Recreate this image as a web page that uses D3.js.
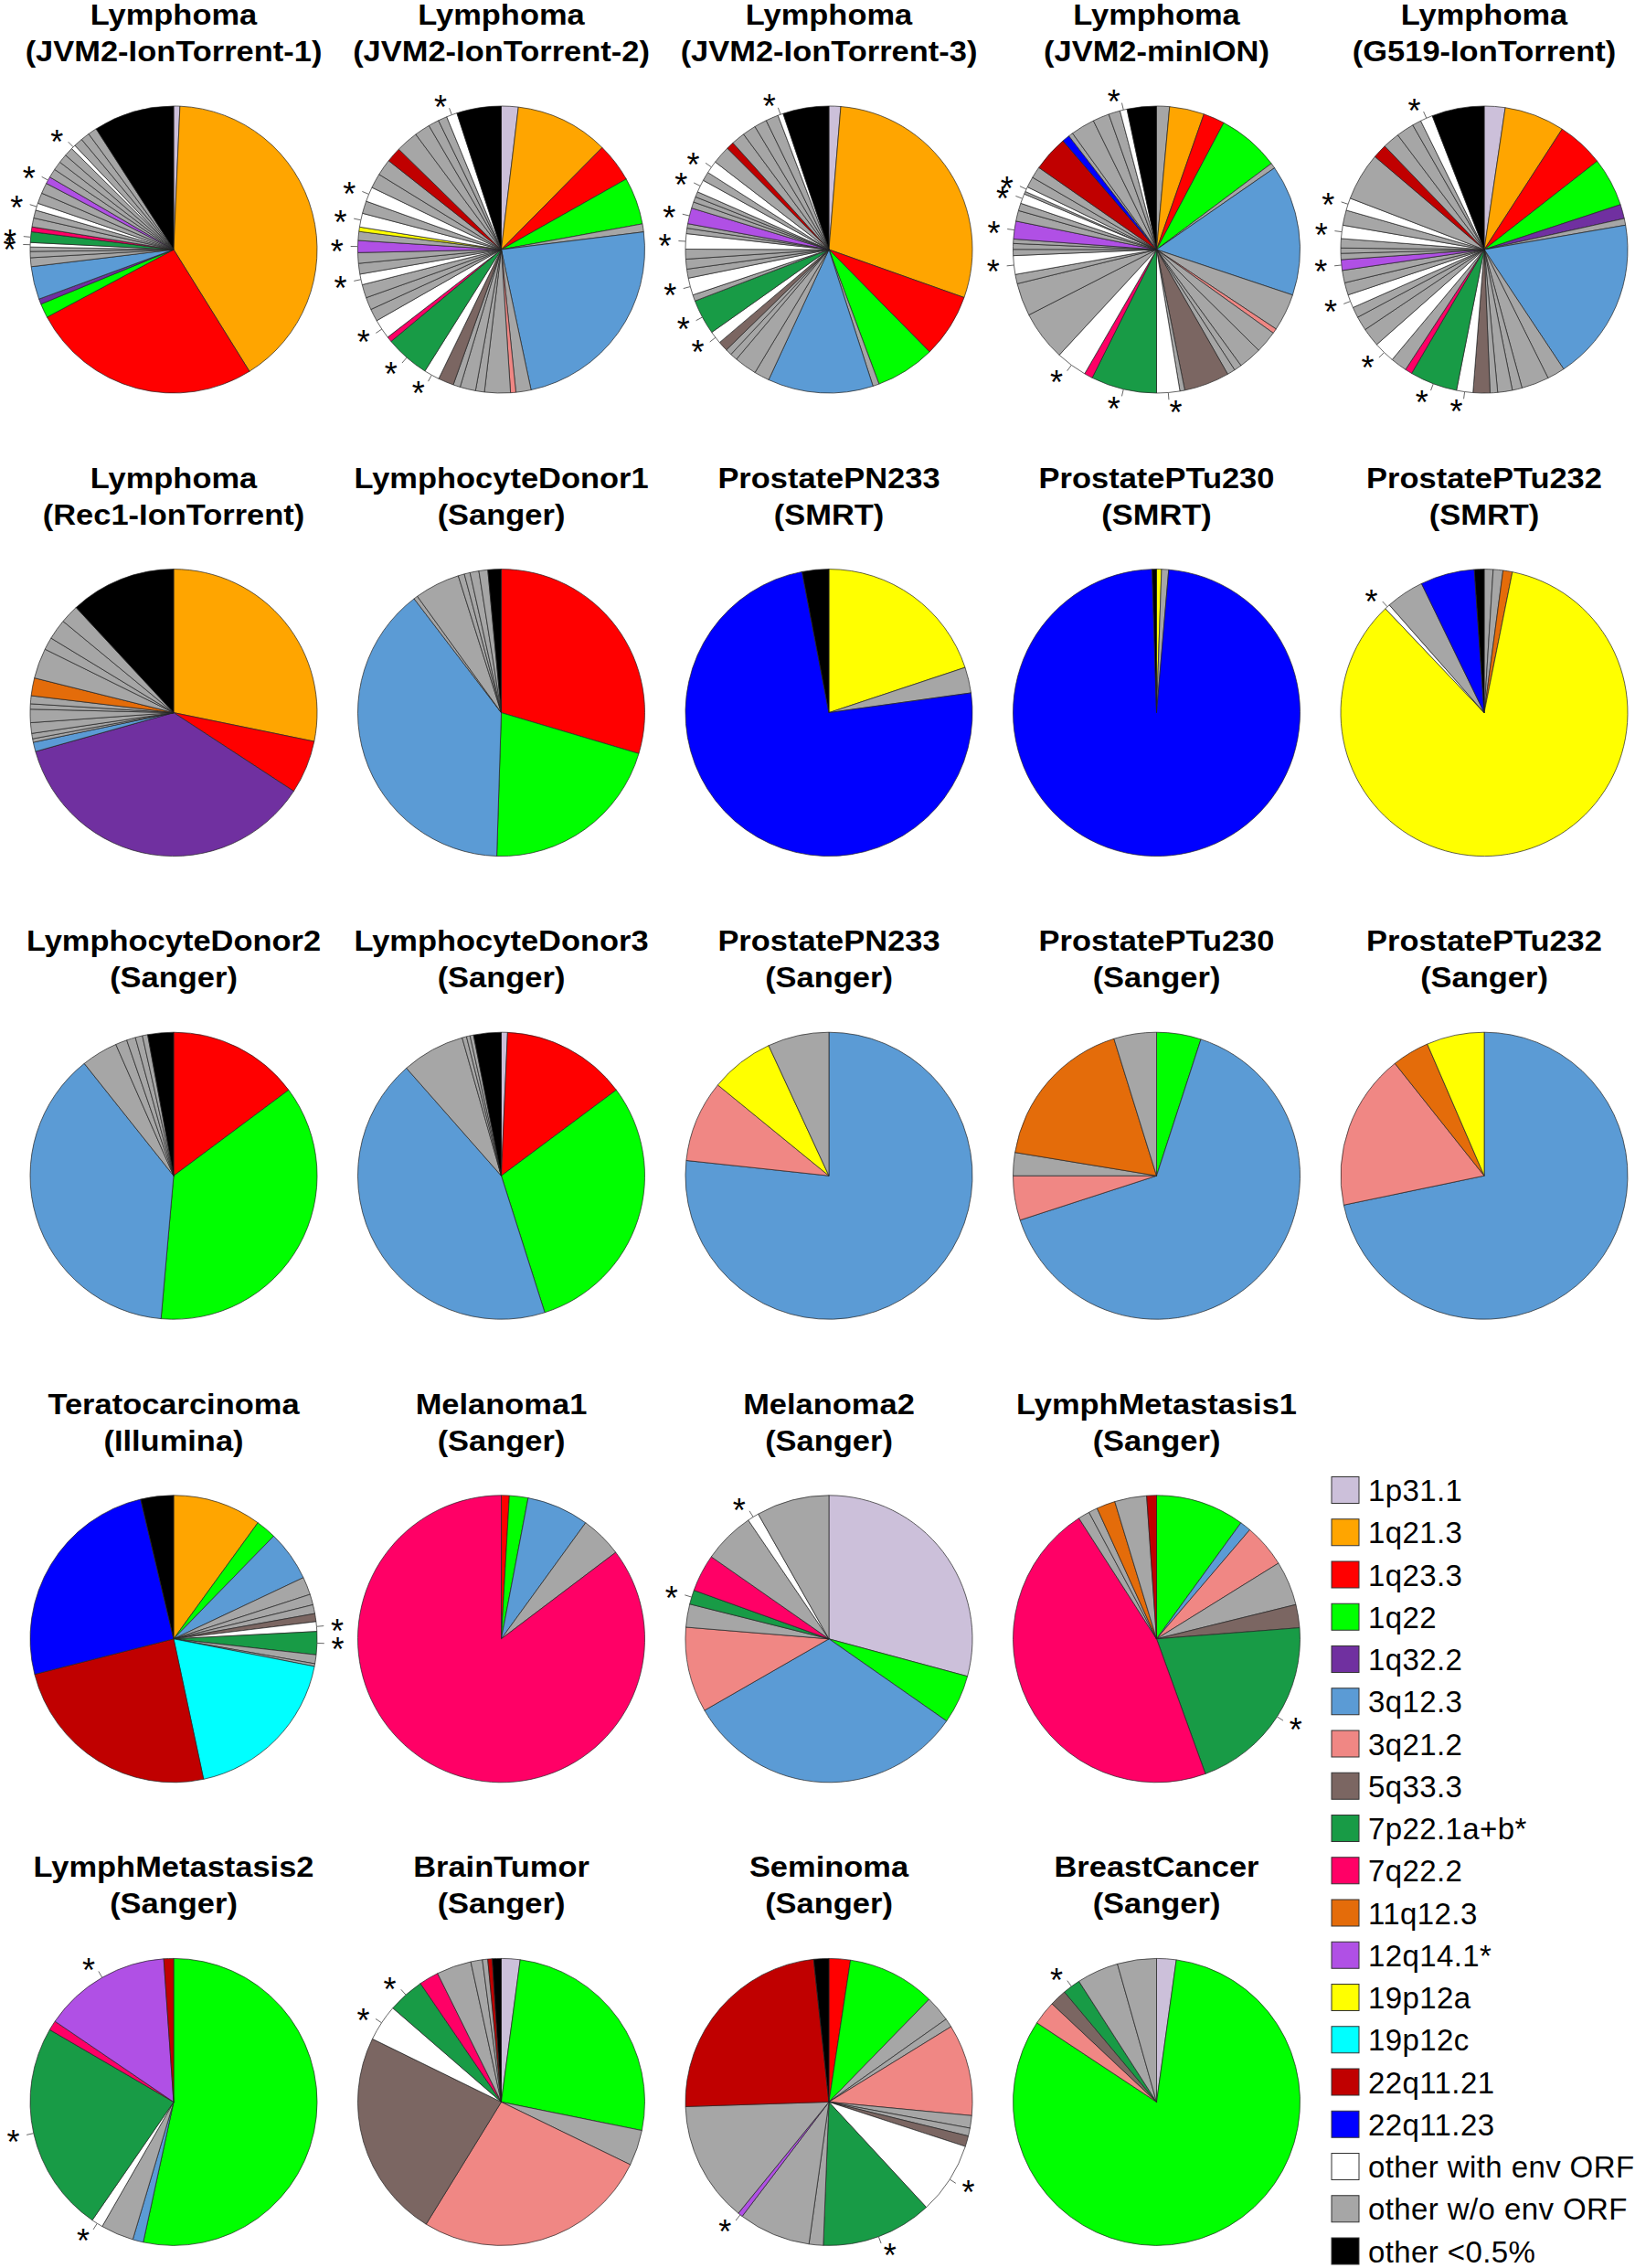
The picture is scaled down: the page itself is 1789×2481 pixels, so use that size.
<!DOCTYPE html>
<html><head><meta charset="utf-8">
<script src="https://cdn.jsdelivr.net/npm/d3@7"></script>
<style>body{margin:0;background:#fff} svg{display:block}</style>
</head><body>
<svg id="chart" width="1789" height="2481"></svg>
<script>
// ---------- categories (legend order) ----------
const categoryCodes = ["A","B","C","D","E","F","G","H","I","J","K","L","M","N","O","P","W","X","Z"];
const categories = ["1p31.1","1q21.3","1q23.3","1q22","1q32.2","3q12.3","3q21.2","5q33.3","7p22.1a+b*","7q22.2","11q12.3","12q14.1*","19p12a","19p12c","22q11.21","22q11.23","other with env ORF","other w/o env ORF","other <0.5%"];
const categoryColors = ["#CCC0DA","#FFA500","#FF0000","#00FF00","#7030A0","#5B9BD5","#F08784","#7B6662","#189B46","#FF0066","#E46C0A","#B050E5","#FFFF00","#00FFFF","#C00000","#0000FF","#FFFFFF","#A6A6A6","#000000"];
const starredCodes = ["I","L","W"];

// ---------- pie titles ----------
const pieTitles = [
  ["Lymphoma","(JVM2-IonTorrent-1)"],["Lymphoma","(JVM2-IonTorrent-2)"],["Lymphoma","(JVM2-IonTorrent-3)"],["Lymphoma","(JVM2-minION)"],["Lymphoma","(G519-IonTorrent)"],
  ["Lymphoma","(Rec1-IonTorrent)"],["LymphocyteDonor1","(Sanger)"],["ProstatePN233","(SMRT)"],["ProstatePTu230","(SMRT)"],["ProstatePTu232","(SMRT)"],
  ["LymphocyteDonor2","(Sanger)"],["LymphocyteDonor3","(Sanger)"],["ProstatePN233","(Sanger)"],["ProstatePTu230","(Sanger)"],["ProstatePTu232","(Sanger)"],
  ["Teratocarcinoma","(Illumina)"],["Melanoma1","(Sanger)"],["Melanoma2","(Sanger)"],["LymphMetastasis1","(Sanger)"],
  ["LymphMetastasis2","(Sanger)"],["BrainTumor","(Sanger)"],["Seminoma","(Sanger)"],["BreastCancer","(Sanger)"]
];

// ---------- slice values (% of reads), clockwise from 12 o'clock ----------
const jvm2Ion1 = [["A",0.7],["B",40.5],["C",26.1],["D",1.6],["E",0.6],["F",3.7],["X",1.0],["X",0.7],["X",0.5],["W",0.5],["I",1.2],["J",0.55],["X",1.0],["X",0.9],["W",0.8],["X",1.2],["X",1.2],["L",0.8],["X",1.0],["X",1.0],["X",1.0],["X",1.0],["W",0.5],["X",1.0],["X",1.0],["X",1.0],["Z",9.1]];
const jvm2Ion2 = [["A",1.9],["B",10.5],["C",4.4],["D",5.3],["X",0.9],["F",23.6],["X",1.7],["G",0.6],["X",2.9],["X",1.0],["X",1.75],["X",0.8],["H",1.75],["W",1.75],["I",5.0],["J",0.6],["W",2.2],["X",1.4],["X",1.4],["X",1.5],["W",1.2],["X",1.2],["X",1.2],["L",1.35],["X",1.0],["M",0.5],["W",1.55],["X",1.4],["W",1.65],["X",1.65],["X",1.85],["O",1.7],["X",2.5],["X",1.75],["X",1.2],["X",1.0],["W",1.2],["Z",5.0]];
const jvm2Ion3 = [["A",1.3],["B",28.7],["C",7.1],["D",6.6],["X",0.7],["F",11.7],["X",1.7],["X",2.5],["X",0.8],["X",0.7],["H",1.1],["W",1.4],["I",3.9],["X",0.7],["W",1.9],["X",1.0],["X",1.1],["X",1.1],["W",1.7],["X",0.6],["X",0.5],["L",1.75],["X",0.7],["X",0.6],["X",0.6],["W",1.4],["X",1.0],["W",1.4],["X",2.0],["O",0.85],["X",1.5],["X",1.5],["X",1.4],["X",1.4],["W",0.6],["Z",5.1]];
const jvm2MinION = [["X",1.45],["B",3.9],["C",2.4],["D",7.0],["X",0.6],["F",14.75],["X",4.2],["G",0.55],["X",2.5],["X",2.6],["X",0.85],["X",0.9],["H",5.1],["X",0.55],["W",2.6],["I",7.4],["J",0.95],["W",3.5],["X",5.6],["X",3.7],["X",1.05],["W",2.1],["X",0.7],["X",0.65],["X",0.5],["L",2.0],["X",1.2],["X",0.85],["W",1.1],["X",0.3],["W",0.55],["X",1.2],["X",1.3],["O",4.0],["P",0.85],["X",0.5],["X",2.7],["X",1.85],["X",1.3],["W",0.8],["Z",3.3]];
const g519Ion = [["A",2.35],["B",6.8],["C",5.3],["D",5.5],["E",1.6],["X",0.75],["F",18.4],["X",2.0],["X",3.1],["X",1.1],["X",1.65],["X",0.85],["H",1.9],["W",1.85],["I",5.35],["J",0.8],["X",1.85],["W",2.4],["X",2.1],["X",1.6],["X",1.2],["W",1.5],["X",1.4],["X",1.4],["L",1.2],["X",0.7],["X",0.6],["X",1.05],["W",1.5],["X",1.7],["W",1.4],["X",5.4],["O",1.6],["X",1.9],["X",2.0],["X",1.0],["W",1.4],["Z",5.9]];
const rec1Ion = [["B",28.2],["C",6.0],["E",36.4],["F",1.05],["X",0.4],["X",0.6],["X",1.2],["X",1.5],["X",0.6],["X",0.9],["K",2.0],["X",3.4],["X",1.4],["X",2.3],["X",2.1],["Z",11.9]];
const donor1 = [["C",29.6],["D",20.9],["F",39.1],["X",0.45],["X",5.1],["X",0.7],["X",0.65],["X",1.0],["X",1.0],["Z",1.5]];
const pn233Smrt = [["M",19.9],["X",2.9],["P",74.2],["Z",3.0]];
const ptu230Smrt = [["M",0.55],["X",0.8],["P",98.15],["Z",0.5]];
const ptu232Smrt = [["X",1.0],["X",1.1],["K",1.05],["M",84.8],["W",0.6],["X",4.3],["P",6.1],["Z",1.1]];
const donor2 = [["C",14.8],["D",36.6],["F",37.9],["X",4.1],["X",1.3],["X",1.0],["X",0.8],["X",0.6],["Z",2.9]];
const donor3 = [["A",0.7],["C",14.1],["D",30.3],["F",43.4],["X",7.1],["X",0.5],["X",0.4],["X",0.4],["Z",3.1]];
const pn233Sanger = [["F",76.7],["G",9.2],["M",7.2],["X",6.9]];
const ptu230Sanger = [["D",5.0],["F",65.0],["G",5.0],["X",2.6],["K",17.6],["X",4.8]];
const ptu232Sanger = [["F",71.8],["G",17.6],["K",4.2],["M",6.5]];
const teratocarcinoma = [["B",10.0],["D",2.3],["F",5.7],["X",2.0],["X",1.2],["X",1.0],["H",0.9],["W",1.1],["I",2.6],["X",1.0],["X",0.3],["N",18.6],["O",24.4],["P",25.3],["Z",3.7]];
const melanoma1 = [["C",0.9],["D",2.1],["F",7.0],["X",4.7],["J",85.3]];
const melanoma2 = [["A",29.2],["D",5.5],["F",32.0],["G",9.6],["X",2.6],["I",1.6],["J",4.2],["X",5.8],["W",1.3],["X",8.2]];
const lymphMet1 = [["D",10.0],["F",1.25],["G",4.9],["X",5.0],["H",2.6],["I",20.7],["J",46.4],["X",1.3],["X",1.0],["K",2.1],["X",3.6],["O",1.1]];
const lymphMet2 = [["D",53.4],["F",1.2],["X",3.7],["W",1.3],["I",23.8],["J",1.1],["L",14.4],["O",1.1]];
const brainTumor = [["A",2.1],["D",26.0],["X",4.0],["G",26.5],["H",23.4],["W",4.1],["I",4.1],["J",2.2],["X",3.9],["X",1.3],["X",0.6],["O",0.5],["Z",1.0]];
const seminoma = [["C",2.4],["D",9.9],["X",2.9],["X",1.0],["G",10.3],["X",1.4],["X",0.9],["H",1.2],["W",8.1],["I",12.5],["X",1.6],["X",8.1],["L",0.55],["X",13.6],["O",23.8],["Z",1.7]];
const breastCancer = [["A",2.2],["D",82.1],["G",2.7],["H",1.9],["I",2.0],["X",4.7],["X",4.4]];

const pieSeries = [jvm2Ion1,jvm2Ion2,jvm2Ion3,jvm2MinION,g519Ion,rec1Ion,donor1,pn233Smrt,ptu230Smrt,ptu232Smrt,donor2,donor3,pn233Sanger,ptu230Sanger,ptu232Sanger,teratocarcinoma,melanoma1,melanoma2,lymphMet1,lymphMet2,brainTumor,seminoma,breastCancer];

// ---------- layout ----------
const colX = [190, 548.5, 907, 1265.5, 1624];
const rowStep = 506.6, firstCenterY = 273, radius = 157;
const fontFam = "'Liberation Sans', Arial, Helvetica, sans-serif";

const svg = d3.select("#chart");
svg.append("rect").attr("width",1789).attr("height",2481).attr("fill","#fff");

const colorOf = d3.scaleOrdinal().domain(categoryCodes).range(categoryColors);
const pie = d3.pie().sort(null).value(d => d[1]);
const arc = d3.arc().innerRadius(0).outerRadius(radius);

function gridPos(i){
  if (i < 15) return [i % 5, Math.floor(i / 5)];
  const j = i - 15; return [j % 4, 3 + Math.floor(j / 4)];
}

pieSeries.forEach((series, i) => {
  const [c, r] = gridPos(i);
  const cx = colX[c], cy = firstCenterY + r * rowStep;
  const g = svg.append("g").attr("transform", `translate(${cx},${cy})`);
  // titles
  const t = svg.append("g").attr("font-family", fontFam).attr("font-weight","bold").attr("font-size",30.5).attr("fill","#000");
  pieTitles[i].forEach((line, k) => {
    t.append("text").attr("text-anchor","middle")
      .attr("transform", `translate(${cx},${cy - 246 + k*40}) scale(1.13,1)`)
      .text(line);
  });
  const arcs = pie(series);
  g.selectAll("path.slice").data(arcs).join("path").attr("class","slice")
    .attr("d", arc).attr("fill", d => colorOf(d.data[0]))
    .attr("stroke","#222").attr("stroke-width",0.7).attr("stroke-linejoin","round");
  // star labels
  const starred = arcs.filter(d => starredCodes.includes(d.data[0]));
  starred.forEach(d => {
    const a = (d.startAngle + d.endAngle) / 2;
    const sx = Math.sin(a), sy = -Math.cos(a);
    g.append("line").attr("x1", sx*radius).attr("y1", sy*radius)
      .attr("x2", sx*radius*1.05).attr("y2", sy*radius*1.05)
      .attr("stroke","#666").attr("stroke-width",1);
    const fs = 36;
    g.append("text").attr("x", sx*radius*1.1).attr("y", sy*radius*1.1 + 0.52*fs)
      .attr("text-anchor", sx < 0 ? "end" : "start")
      .attr("font-family", fontFam).attr("font-size", fs).attr("fill","#000")
      .text("*");
  });
});

// ---------- legend ----------
const legendY0 = 1630, legendStep = 46.25;
const legY = d3.scalePoint().domain(categories).range([legendY0, legendY0 + legendStep*(categories.length-1)]);
const leg = svg.append("g").attr("font-family", fontFam).attr("font-size", 33).attr("letter-spacing", 0.4);
categories.forEach((name, k) => {
  const y = legY(name);
  leg.append("rect").attr("x",1457).attr("y", y-14.5).attr("width",30).attr("height",29)
    .attr("fill", categoryColors[k]).attr("stroke","#333").attr("stroke-width",1);
  leg.append("text").attr("x",1497).attr("y", y+12).attr("fill","#000").text(name);
});
</script>
</body></html>
